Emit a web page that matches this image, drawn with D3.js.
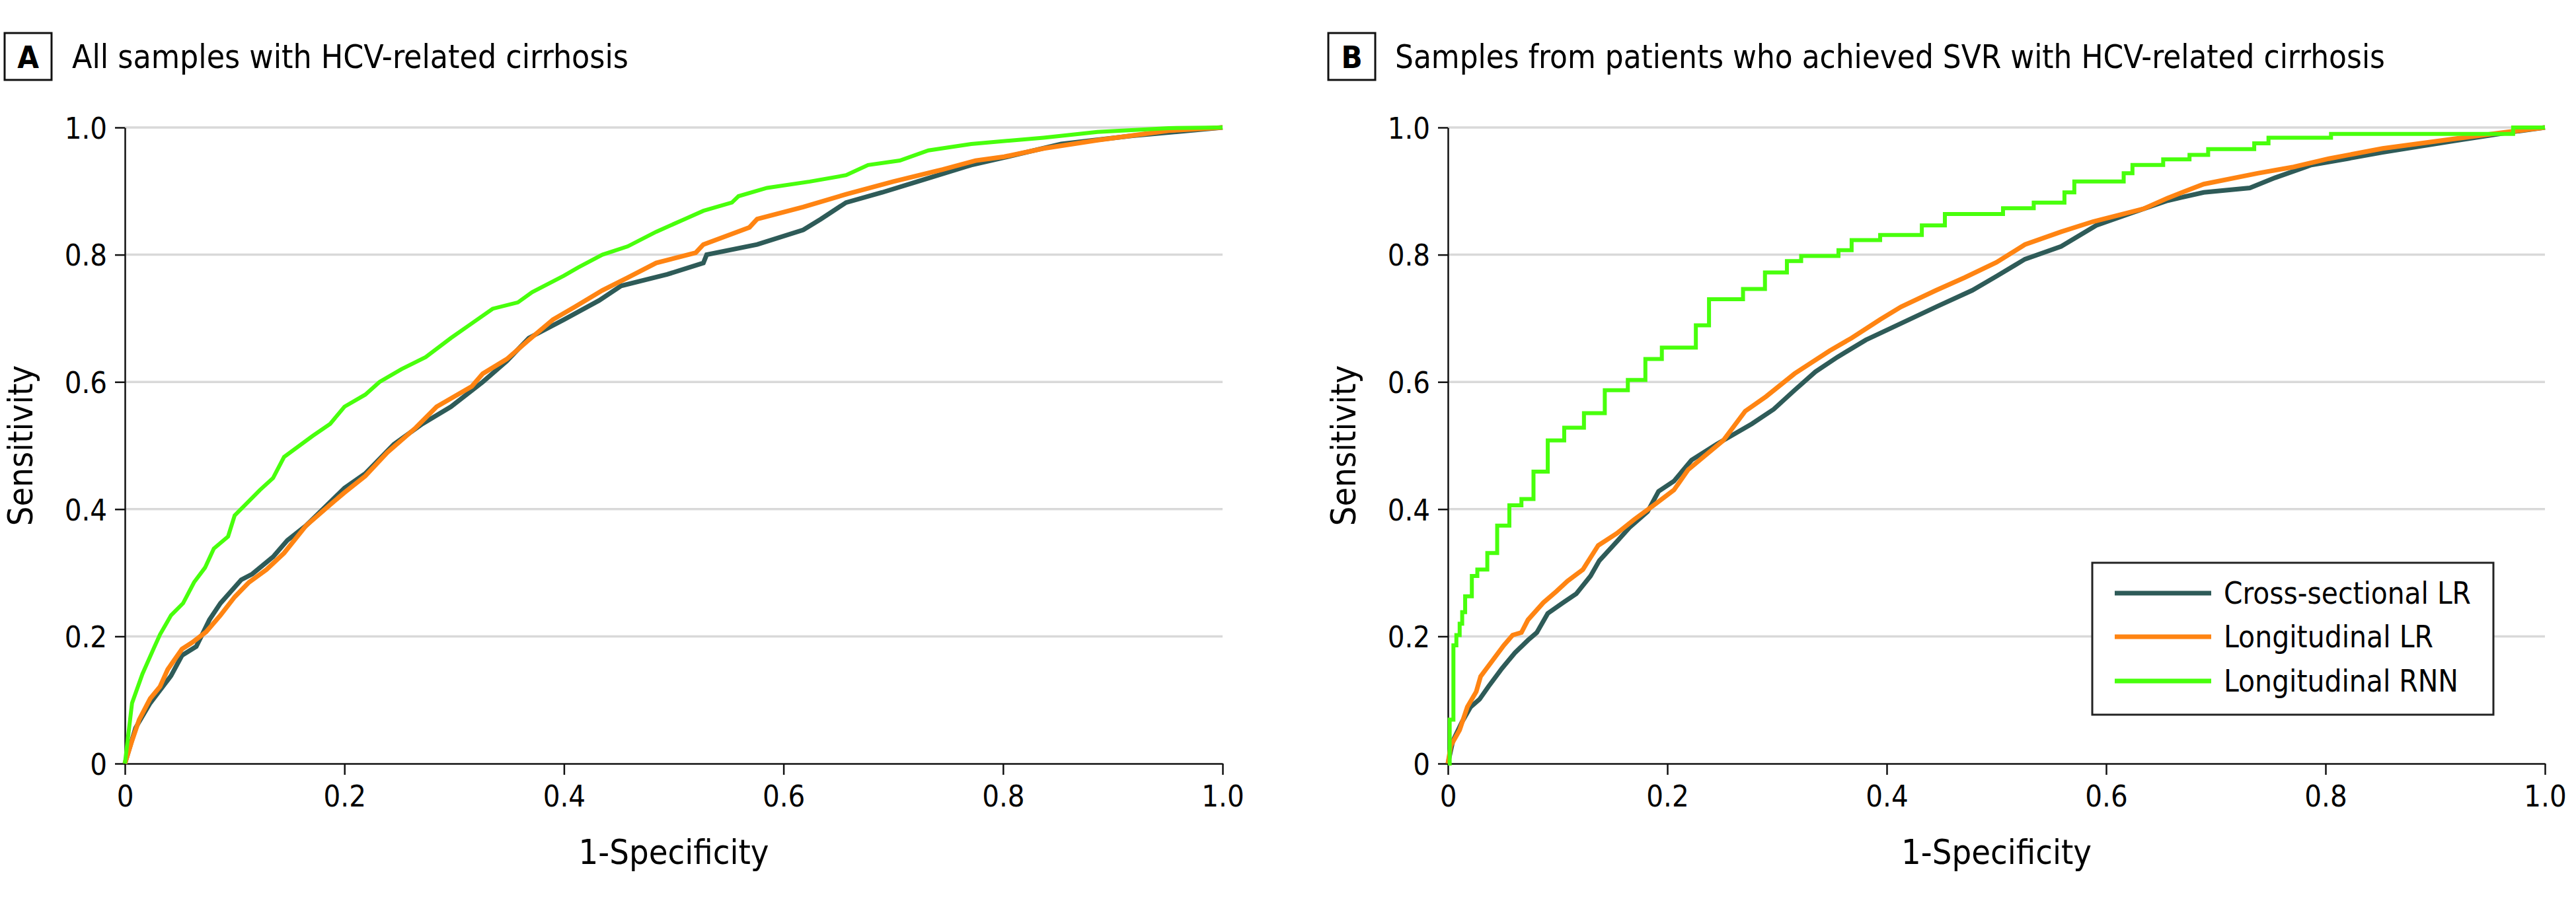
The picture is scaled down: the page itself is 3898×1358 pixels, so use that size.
<!DOCTYPE html>
<html>
<head>
<meta charset="utf-8">
<script src="https://cdn.jsdelivr.net/npm/d3@7"></script>
<style>
  html, body { margin: 0; padding: 0; background: #fff; }
  svg text { font-family: 'DejaVu Sans Condensed', 'DejaVu Sans', sans-serif; font-stretch: condensed; fill: #000; }
</style>
</head>
<body>
<svg id="chart" width="3898" height="1358"></svg>
<script>
// ---------------- DATA ----------------
const seriesNames = ["Cross-sectional LR", "Longitudinal LR", "Longitudinal RNN"];
const seriesColors = ["#2e5b58", "#ff8412", "#48ff0c"];
const xTicks = [0, 0.2, 0.4, 0.6, 0.8, 1.0];
const yTicks = [0, 0.2, 0.4, 0.6, 0.8, 1.0];
const panelLetters = ["A", "B"];
const panelTitles = ["All samples with HCV-related cirrhosis",
                     "Samples from patients who achieved SVR with HCV-related cirrhosis"];
const xLabel = "1-Specificity";
const yLabel = "Sensitivity";

// Panel A: [1-specificity, sensitivity]
const rocA_cross = [[0,0],[0.0097,0.056],[0.023,0.095],[0.042,0.138],[0.052,0.17],[0.065,0.184],[0.077,0.226],[0.087,0.252],[0.106,0.289],[0.116,0.298],[0.135,0.325],[0.148,0.351],[0.165,0.374],[0.2,0.433],[0.219,0.456],[0.245,0.502],[0.271,0.534],[0.297,0.561],[0.326,0.6],[0.348,0.633],[0.368,0.669],[0.4,0.698],[0.432,0.728],[0.452,0.751],[0.494,0.769],[0.527,0.787],[0.53,0.8],[0.576,0.816],[0.618,0.839],[0.634,0.856],[0.657,0.882],[0.69,0.898],[0.722,0.915],[0.771,0.941],[0.804,0.954],[0.853,0.974],[0.918,0.987],[1,1]];
const rocA_long = [[0,0],[0.0065,0.036],[0.013,0.069],[0.023,0.102],[0.032,0.121],[0.039,0.148],[0.052,0.18],[0.061,0.19],[0.074,0.207],[0.087,0.233],[0.1,0.262],[0.113,0.285],[0.129,0.305],[0.145,0.331],[0.165,0.374],[0.187,0.407],[0.2,0.426],[0.219,0.452],[0.239,0.489],[0.265,0.528],[0.284,0.561],[0.303,0.58],[0.316,0.593],[0.326,0.613],[0.348,0.636],[0.368,0.666],[0.39,0.698],[0.41,0.718],[0.435,0.744],[0.458,0.764],[0.484,0.787],[0.52,0.803],[0.527,0.816],[0.569,0.843],[0.576,0.856],[0.618,0.875],[0.657,0.895],[0.7,0.915],[0.745,0.934],[0.775,0.948],[0.801,0.954],[0.837,0.967],[0.886,0.98],[0.951,0.995],[0.99,0.999],[1,1]];
const rocA_rnn = [[0,0],[0.0065,0.095],[0.016,0.141],[0.026,0.18],[0.032,0.203],[0.042,0.233],[0.053,0.252],[0.063,0.285],[0.073,0.308],[0.081,0.338],[0.094,0.357],[0.1,0.39],[0.123,0.43],[0.135,0.449],[0.145,0.482],[0.171,0.515],[0.187,0.534],[0.2,0.561],[0.219,0.58],[0.232,0.6],[0.252,0.62],[0.274,0.639],[0.297,0.669],[0.316,0.692],[0.335,0.715],[0.358,0.725],[0.371,0.741],[0.4,0.767],[0.413,0.78],[0.435,0.8],[0.458,0.813],[0.484,0.836],[0.51,0.856],[0.527,0.869],[0.553,0.882],[0.559,0.892],[0.585,0.905],[0.624,0.915],[0.657,0.925],[0.677,0.941],[0.706,0.948],[0.732,0.964],[0.771,0.974],[0.837,0.984],[0.886,0.993],[0.951,0.999],[1,1]];

// Panel B
const rocB_cross = [[0,0],[0.0046,0.036],[0.0127,0.065],[0.0207,0.089],[0.0288,0.101],[0.0369,0.121],[0.049,0.149],[0.061,0.174],[0.073,0.194],[0.081,0.206],[0.091,0.236],[0.105,0.253],[0.117,0.267],[0.13,0.295],[0.138,0.319],[0.154,0.349],[0.166,0.372],[0.182,0.396],[0.192,0.428],[0.206,0.444],[0.222,0.477],[0.245,0.502],[0.277,0.534],[0.297,0.557],[0.316,0.587],[0.335,0.616],[0.355,0.639],[0.381,0.666],[0.413,0.692],[0.445,0.718],[0.478,0.744],[0.5,0.766],[0.526,0.793],[0.559,0.813],[0.591,0.846],[0.624,0.866],[0.656,0.885],[0.689,0.898],[0.731,0.905],[0.754,0.921],[0.787,0.941],[0.82,0.951],[0.852,0.961],[0.917,0.979],[0.966,0.992],[1,1]];
const rocB_long = [[0,0],[0.0026,0.028],[0.0107,0.053],[0.0177,0.089],[0.0258,0.113],[0.0298,0.137],[0.0389,0.158],[0.051,0.186],[0.059,0.202],[0.067,0.206],[0.073,0.226],[0.087,0.253],[0.099,0.271],[0.109,0.287],[0.123,0.305],[0.137,0.343],[0.154,0.362],[0.17,0.384],[0.186,0.404],[0.206,0.43],[0.219,0.462],[0.251,0.508],[0.271,0.554],[0.29,0.577],[0.316,0.613],[0.348,0.649],[0.368,0.669],[0.394,0.698],[0.413,0.718],[0.445,0.744],[0.471,0.764],[0.5,0.788],[0.526,0.816],[0.559,0.836],[0.588,0.852],[0.634,0.872],[0.656,0.889],[0.689,0.911],[0.738,0.928],[0.771,0.938],[0.803,0.951],[0.852,0.967],[0.917,0.982],[0.966,0.993],[1,1]];
// step points: at this 1-specificity the curve rises to this sensitivity
const rocB_rnn = [[0,0],[0.0016,0.069],[0.005,0.186],[0.0077,0.202],[0.0107,0.22],[0.013,0.238],[0.0157,0.263],[0.0218,0.295],[0.0268,0.305],[0.0359,0.331],[0.0449,0.374],[0.056,0.406],[0.067,0.416],[0.078,0.459],[0.091,0.508],[0.106,0.528],[0.124,0.551],[0.143,0.587],[0.164,0.603],[0.18,0.636],[0.195,0.654],[0.226,0.689],[0.238,0.73],[0.269,0.746],[0.289,0.772],[0.309,0.79],[0.322,0.798],[0.356,0.807],[0.368,0.823],[0.394,0.831],[0.432,0.846],[0.453,0.864],[0.506,0.873],[0.534,0.882],[0.562,0.898],[0.571,0.915],[0.616,0.928],[0.624,0.941],[0.652,0.95],[0.676,0.957],[0.693,0.966],[0.735,0.975],[0.748,0.984],[0.805,0.99],[0.971,1.0],[1,1]];

// ---------------- LAYOUT ----------------
const svg = d3.select("#chart");
const panels = [
  { x0: 189, x1: 1850, data: [rocA_cross, rocA_long, rocA_rnn], steps: [false,false,false], box: 7, titleX: 109, titleW: 842, legend: false },
  { x0: 2191, x1: 3851, data: [rocB_cross, rocB_long, rocB_rnn], steps: [false,false,true], box: 2010, titleX: 2111, titleW: 1498, legend: true }
];
const yTop = 193, yBot = 1156;
const fmt = v => v === 0 ? "0" : d3.format(".1f")(v);

panels.forEach((p, pi) => {
  const x = d3.scaleLinear().domain([0, 1]).range([p.x0, p.x1]);
  const y = d3.scaleLinear().domain([0, 1]).range([yBot, yTop]);
  const g = svg.append("g");

  // panel letter box + title
  g.append("rect").attr("x", p.box).attr("y", 50).attr("width", 71).attr("height", 71)
    .attr("fill", "#fff").attr("stroke", "#111").attr("stroke-width", 3);
  g.append("text").attr("x", p.box + 35.5).attr("y", 103).attr("text-anchor", "middle")
    .style("font-size", "47px").style("font-weight", "bold").text(panelLetters[pi]);
  g.append("text").attr("x", p.titleX).attr("y", 103).style("font-size", "50px")
    .attr("textLength", p.titleW).attr("lengthAdjust", "spacingAndGlyphs")
    .text(panelTitles[pi]);

  // gridlines
  g.append("g").selectAll("line").data(yTicks.filter(v => v > 0)).join("line")
    .attr("x1", p.x0).attr("x2", p.x1).attr("y1", d => y(d)).attr("y2", d => y(d))
    .attr("stroke", "#d9d9d9").attr("stroke-width", 3.5);

  // axes
  const xAxis = g.append("g").attr("transform", `translate(0,${yBot})`)
    .call(d3.axisBottom(x).tickValues(xTicks).tickFormat(fmt).tickSize(17).tickSizeOuter(0).tickPadding(16));
  const yAxis = g.append("g").attr("transform", `translate(${p.x0},0)`)
    .call(d3.axisLeft(y).tickValues(yTicks).tickFormat(fmt).tickSize(15).tickSizeOuter(0).tickPadding(12));
  [xAxis, yAxis].forEach(a => {
    a.selectAll("path.domain").attr("stroke", "#111").attr("stroke-width", 2.5);
    a.selectAll(".tick line").attr("stroke", "#111").attr("stroke-width", 2.5);
    a.selectAll(".tick text").style("font-size", "45px").style("font-family", "'DejaVu Sans Condensed','DejaVu Sans',sans-serif").attr("fill", "#000");
  });
  xAxis.selectAll(".tick text").attr("dy", "0.71em");
  yAxis.selectAll(".tick text").attr("dy", "0.36em");

  // axis labels
  g.append("text").attr("x", (p.x0 + p.x1) / 2).attr("y", 1308).attr("text-anchor", "middle")
    .style("font-size", "52px").text(xLabel);
  g.append("text").attr("transform", `translate(${p.x0 - 140},${(yTop + yBot) / 2}) rotate(-90)`)
    .attr("text-anchor", "middle").style("font-size", "52px").text(yLabel);

  // curves
  p.data.forEach((d, si) => {
    const line = d3.line().x(v => x(v[0])).y(v => y(v[1]))
      .curve(p.steps[si] ? d3.curveStepAfter : d3.curveLinear);
    g.append("path").datum(d).attr("d", line).attr("fill", "none")
      .attr("stroke", seriesColors[si]).attr("stroke-width", si === 2 ? 6 : 7)
      .attr("stroke-linejoin", "miter");
  });

  // legend
  if (p.legend) {
    const lg = g.append("g");
    lg.append("rect").attr("x", 3166).attr("y", 852).attr("width", 607).attr("height", 230)
      .attr("fill", "#fff").attr("stroke", "#222").attr("stroke-width", 3);
    const rows = [898, 964, 1031];
    const widths = [374, 317, 355];
    seriesNames.forEach((n, i) => {
      lg.append("line").attr("x1", 3200).attr("x2", 3346).attr("y1", rows[i]).attr("y2", rows[i])
        .attr("stroke", seriesColors[i]).attr("stroke-width", 7);
      lg.append("text").attr("x", 3365).attr("y", rows[i] + 16).style("font-size", "47px")
        .attr("textLength", widths[i]).attr("lengthAdjust", "spacingAndGlyphs").text(n);
    });
  }
});
</script>
</body>
</html>
